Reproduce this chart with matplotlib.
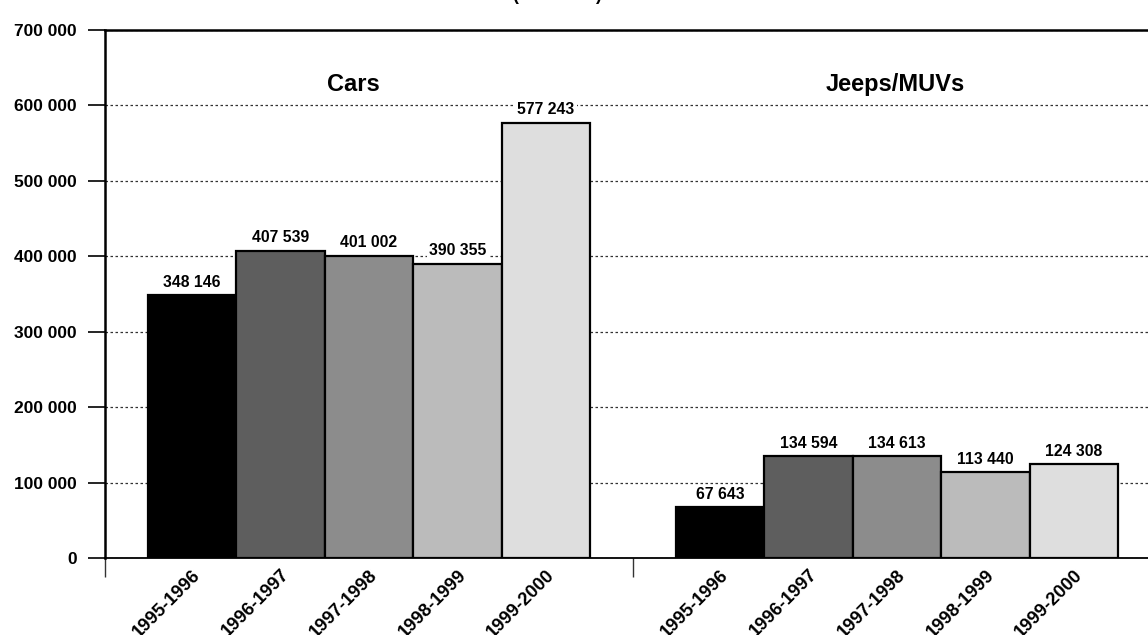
import matplotlib
matplotlib.use("Agg")
import matplotlib.pyplot as plt
import numpy as np

plt.rcParams['font.family'] = ['Liberation Sans', 'DejaVu Sans']
plt.rcParams['font.weight'] = 'bold'

# sales per fiscal year, two vehicle segments
segments = ['Cars', 'Jeeps/MUVs']
years = ['1995-1996', '1996-1997', '1997-1998', '1998-1999', '1999-2000']
cars = [348146, 407539, 401002, 390355, 577243]
jeeps = [67643, 134594, 134613, 113440, 124308]
year_colors = ['#000000', '#5e5e5e', '#8c8c8c', '#bbbbbb', '#dedede']
y_ticks = [0, 100000, 200000, 300000, 400000, 500000, 600000, 700000]

fig = plt.figure(figsize=(11.48, 6.35), dpi=100)
ax = fig.add_axes([105 / 1148, 77 / 635, 1056 / 1148, 528 / 635])

w = 0.1676
centers = []
labels = []
for g, vals in enumerate([cars, jeeps]):
    for i, v in enumerate(vals):
        x = g + (i - 2) * w
        ax.bar(x, v, width=w, color=year_colors[i], edgecolor='black',
               linewidth=1.6, zorder=3)
        ax.text(x, v + 7000, f"{v:,}".replace(',', ' '), ha='center', va='bottom',
                fontsize=11.3, fontweight='bold', zorder=4,
                bbox=dict(facecolor='white', edgecolor='none', pad=1.5))
        centers.append(x)
        labels.append(years[i])

# segment titles
ax.text(-0.03, 628000, segments[0], ha='center', va='center', fontsize=17, fontweight='bold')
ax.text(0.996, 628000, segments[1], ha='center', va='center', fontsize=17, fontweight='bold')

ax.set_xlim(-0.5, 1.5)
ax.set_ylim(0, 700000)

ax.set_yticks(y_ticks)
ax.set_yticklabels([f"{t:,}".replace(',', ' ') for t in y_ticks], fontsize=12.5, fontweight='bold')
ax.tick_params(axis='y', length=12.5, width=1.2, pad=8)

ax.set_xticks(centers)
ax.set_xticklabels(labels, rotation=45, ha='right', va='top', rotation_mode='anchor',
                   fontsize=13.2, fontweight='bold')
ax.tick_params(axis='x', which='major', length=0, pad=6)
ax.set_xticks([-0.5, 0.5, 1.5], minor=True)
ax.tick_params(axis='x', which='minor', length=13.5, width=1, color='#333333')

ax.yaxis.grid(True, linestyle=(0, (2, 2)), color='#333333', linewidth=0.9)
ax.set_axisbelow(True)

for side in ['top', 'left']:
    ax.spines[side].set_linewidth(1.8)
ax.spines['bottom'].set_linewidth(1.3)
ax.spines['right'].set_visible(False)

fig.text(557 / 1148, 1.0, '(Numbers)', ha='center', va='baseline', fontsize=13, fontweight='bold')

fig.savefig('out.png', dpi=100)
